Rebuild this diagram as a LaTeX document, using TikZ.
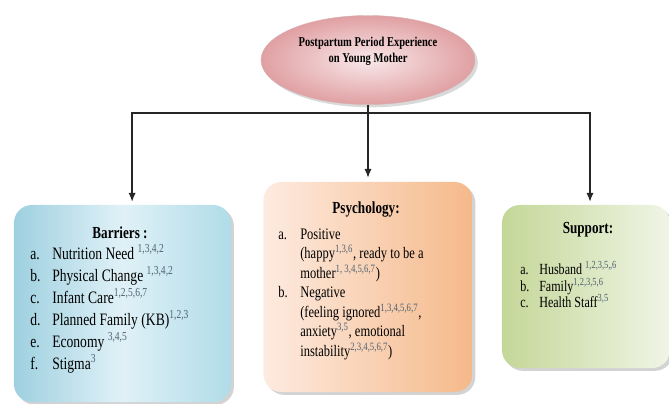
\documentclass[tikz,border=0pt]{standalone}
\usepackage{fontspec}
\setmainfont{Liberation Serif}[FakeStretch=0.78]
\usetikzlibrary{arrows.meta,shadows,shapes.geometric,positioning}

\definecolor{refgray}{HTML}{4F6272}
\newcommand{\sref}[1]{\textsuperscript{\color{refgray}#1}}

\tikzset{
  box/.style={rectangle,rounded corners=0.45cm,inner sep=0pt,
    drop shadow={opacity=0.35,shadow xshift=2pt,shadow yshift=-2pt}},
  oval/.style={ellipse,draw=red!45!black!30,line width=0.3pt,inner sep=0pt,
    minimum width=5.35cm,minimum height=2.225cm,
    inner color={rgb,255:red,249;green,232;blue,233},
    outer color={rgb,255:red,224;green,160;blue,163},
    drop shadow={opacity=0.3,shadow xshift=2pt,shadow yshift=-2pt}},
  link/.style={draw=black!85,line width=0.9pt,-{Latex[length=2.2mm,width=1.8mm]}},
  head/.style={anchor=base,inner sep=0pt,font=\bfseries\fontsize{12}{14}\selectfont},
  item/.style={anchor=base west,inner sep=0pt}
}

\begin{document}
\begin{tikzpicture}[x=0.025cm,y=-0.025cm]
\useasboundingbox (0,0) rectangle (669,403);

%Top ellipse
\node[oval] (top) at (368,60) {};
\node[align=center,inner sep=0pt,font=\bfseries\fontsize{9.6}{11.5}\selectfont] (toptxt) at (368,51) {Postpartum Period Experience\\on Young Mother};

%The three boxes
\node[box,minimum width=5.425cm,minimum height=4.925cm,shading angle=100,
  left color={rgb,255:red,158;green,208;blue,224},
  right color={rgb,255:red,176;green,220;blue,232},
  middle color={rgb,255:red,224;green,241;blue,247}] (bar) at (122.5,303.5) {};
\node[box,minimum width=5.225cm,minimum height=5.25cm,
  left color={rgb,255:red,253;green,235;blue,224},
  right color={rgb,255:red,245;green,185;blue,138}] (psy) at (368,287) {};
\node[box,minimum width=4.2cm,minimum height=4.075cm,
  left color={rgb,255:red,196;green,215;blue,152},
  right color={rgb,255:red,240;green,245;blue,230}] (sup) at (586,286.5) {};

%Arrows
\coordinate (fork) at (368,113);
\draw[link,shorten >=0.1cm] (top) -- (psy);
\draw[link,shorten >=0.075cm] (fork) -| ([xshift=0.24cm]bar.north);
\draw[link,shorten >=0.075cm] (fork) -| ([xshift=0.1cm]sup.north);

%Barriers
\node[head] (barh) at (120,238) {Barriers :};
\foreach \y/\l/\t [count=\i] in {259/a./{Nutrition Need \sref{1,3,4,2}},
    281/b./{Physical Change \sref{1,3,4,2}},
    303/c./{Infant Care\sref{1,2,5,6,7}},
    325/d./{Planned Family (KB)\sref{1,2,3}},
    347/e./{Economy \sref{3,4,5}},
    369/f./{Stigma\sref{3}}}
{
  \node[item,font=\fontsize{12.4}{14}\selectfont] (barl\i) at (30,\y) {\l};
  \node[item,font=\fontsize{12.4}{14}\selectfont] (bart\i) at (52,\y) {\t};
}

%Psychology
\node[head] (psyh) at (366,213) {Psychology:};
\foreach \y/\l/\t [count=\i] in {239/a./{Positive},
    258.5//{(happy\sref{1,3,6}, ready to be a},
    278//{mother\sref{1, 3,4,5,6,7})},
    297.5/b./{Negative},
    317//{(feeling ignored\sref{1,3,4,5,6,7},},
    336.5//{anxiety\sref{3,5}, emotional},
    356//{instability\sref{2,3,4,5,6,7})}}
{
  \node[item,font=\fontsize{11.4}{13}\selectfont] (psyl\i) at (278,\y) {\l};
  \node[item,font=\fontsize{11.4}{13}\selectfont] (psyt\i) at (300,\y) {\t};
}

%Support
\node[head] (suph) at (588,233) {Support:};
\foreach \y/\l/\t [count=\i] in {274/a./{Husband \sref{1,2,3,5,,6}},
    291/b./{Family\sref{1,2,3,5,6}},
    307/c./{Health Staff\sref{3,5}}}
{
  \node[item,font=\fontsize{11}{13}\selectfont] (supl\i) at (520,\y) {\l};
  \node[item,font=\fontsize{11}{13}\selectfont] (supt\i) at (539,\y) {\t};
}

\end{tikzpicture}
\end{document}
